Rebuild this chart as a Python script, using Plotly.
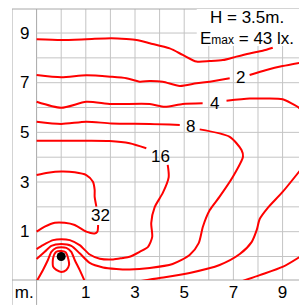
import plotly.graph_objects as go

# ---- data (metres) ----
# isolux curves; None marks a gap where a label sits
c1_x = [-1.0, 0.0, 1.02, 2.04, 2.65, 3.06, 3.6, 4.41, 4.94, 5.5, 6.04, 6.57, 7.12, 7.66, 8.19, 8.6]
c1_y = [8.75, 8.72, 8.75, 8.79, 8.76, 8.72, 8.59, 8.38, 8.12, 7.85, 7.87, 7.91, 8.05, 8.18, 8.29, 8.41]

c2a_x = [-1.0, 0.0, 1.02, 2.04, 2.65, 3.19, 3.6, 4.13, 4.82, 5.5, 6.04, 6.85, None, 7.66, 8.34, 9.0, 9.8]
c2a_y = [7.31, 7.22, 7.30, 7.24, 7.18, 7.04, 7.07, 7.04, 6.87, 6.98, 7.04, 7.18, None, 7.31, 7.51, 7.67, 7.82]
c2b_x = [7.33, 8.07, 9.02, 9.8]
c2b_y = [-1.0, -0.75, -0.41, 0.05]

c4a_x = [-1.0, 0.0, 1.02, 2.04, 3.6, 4.21, 4.94, 5.75, None, 6.72, 7.66, 8.34, 9.0, 9.61, 9.8]
c4a_y = [6.23, 5.99, 6.23, 6.14, 6.14, 6.03, 6.14, 6.17, None, 6.27, 6.36, 6.36, 6.33, 6.03, 5.85]
c4b_x = [9.8, 9.0, 8.39, 8.07, 7.95, 7.74, 7.26, 6.44, 5.22, 4.0, 3.15]
c4b_y = [3.58, 2.6, 1.95, 1.51, 1.07, 0.58, 0.10, -0.34, -0.66, -0.87, -1.0]

c8_x = [-1.0, 0.0, 1.02, 2.04, 3.6, 4.82, None, 5.63, 6.85, 7.33, 7.39, 6.98, 6.44, 6.04, 5.76,
        5.59, 5.22, 4.53, 3.6, 2.78, 2.24, 1.70, 1.16, 0.75, 0.41, 0.0, -0.40, -0.67, -1.0]
c8_y = [5.43, 5.34, 5.43, 5.36, 5.34, 5.30, None, 5.12, 4.82, 4.29, 4.02, 3.21, 2.41, 1.87, 1.20,
        0.54, 0.06, -0.30, -0.46, -0.52, -0.50, -0.44, -0.26, 0.13, 0.43, 0.50, 0.43, 0.19, -0.10]

c16_x = [-1.0, 0.0, 1.02, 1.97, 2.78, 3.46, None, 4.33, 4.37, 4.13, 3.80, 3.66, 3.70, 3.53, 3.19,
         2.78, 2.5, 2.11, 1.57, 1.16, 0.75, 0.35, 0.0, -0.33, -0.74, -1.0]
c16_y = [4.66, 4.66, 4.66, 4.65, 4.56, 4.36, None, 3.69, 3.20, 2.56, 1.99, 1.35, 0.79, 0.39, 0.19,
         -0.01, -0.06, -0.12, -0.09, 0.08, 0.46, 0.66, 0.70, 0.66, 0.46, 0.30]

c32_x = [-1.0, -0.54, 0.0, 0.55, 1.02, 1.29, 1.36, 1.36, 1.43, None, 1.50, 1.47, 1.36, 1.02, 0.55,
         0.14, -0.26, -0.67, -1.0]
c32_y = [3.28, 3.37, 3.42, 3.39, 3.28, 3.01, 2.68, 2.41, 2.01, None, 1.27, 1.00, 0.93, 1.00, 1.27,
         1.36, 1.36, 1.20, 1.00]

arch_x = [-1.0, -0.74, -0.54, -0.40, -0.20, 0.0, 0.21, 0.41, 0.55, 0.75, 0.96]
arch_y = [-1.0, -0.54, -0.14, 0.19, 0.35, 0.37, 0.35, 0.19, -0.14, -0.54, -1.0]

inner_x = [0.0, 0.18, 0.28, 0.32, 0.21, 0.0, -0.20, -0.33, -0.33, -0.20, 0.0]
inner_y = [0.22, 0.17, -0.07, -0.34, -0.54, -0.62, -0.54, -0.41, -0.07, 0.19, 0.22]

lamp_x = [0.0]
lamp_y = [0.0]

label_text = ["2", "4", "8", "16", "32"]
label_x = [7.29, 6.25, 5.26, 4.04, 1.61]
label_y = [7.19, 6.15, 5.22, 4.01, 1.65]

x_tick_vals = [-1.5, 1, 3, 5, 7, 9]
x_tick_text = ["m.", "1", "3", "5", "7", "9"]
y_tick_vals = [1, 3, 5, 7, 9]
y_tick_text = ["1", "3", "5", "7", "9"]

grid_x = list(range(-1, 10))
grid_y = list(range(0, 10))

header_line1 = "H = 3.5m."
header_line2 = "E<span style='font-size:12px'>max</span> = 43 lx."

# ---- figure ----
RED = "#ff0000"
FONT = "Arial, Liberation Sans, sans-serif"
X_RANGE = [-2.0, 9.667]
Y_RANGE = [-0.946, 9.968]

fig = go.Figure()

curves = [(c1_x, c1_y), (c2a_x, c2a_y), (c2b_x, c2b_y), (c4a_x, c4a_y), (c4b_x, c4b_y),
          (c8_x, c8_y), (c16_x, c16_y), (c32_x, c32_y), (arch_x, arch_y), (inner_x, inner_y)]
for cx, cy in curves:
    fig.add_trace(go.Scatter(x=cx, y=cy, mode="lines", connectgaps=False,
                             line=dict(color=RED, width=2, shape="spline", smoothing=0.7),
                             hoverinfo="skip", showlegend=False))

fig.add_trace(go.Scatter(x=lamp_x, y=lamp_y, mode="markers",
                         marker=dict(color="black", size=9), hoverinfo="skip", showlegend=False))

shapes = []
GRID = "#c4c4c4"
FRAME = "#a8a8a8"
for gx in grid_x:
    shapes.append(dict(type="line", xref="x", yref="paper", x0=gx, x1=gx,
                       y0=(-0.092 if gx == -1 else 0), y1=1,
                       line=dict(color=FRAME if gx == -1 else GRID, width=1), layer="below"))
for gy in grid_y:
    shapes.append(dict(type="line", xref="x", yref="y", x0=-1, x1=X_RANGE[1] + 0.1, y0=gy, y1=gy,
                       line=dict(color=GRID, width=1), layer="below"))
# white panel behind the header text
shapes.append(dict(type="rect", xref="x", yref="y", x0=5.51, x1=X_RANGE[1] + 0.2, y0=8.48, y1=Y_RANGE[1] + 0.2,
                   fillcolor="white", line=dict(width=0), layer="below"))
# frame
shapes.append(dict(type="line", xref="x", yref="paper", x0=-2, x1=-2, y0=-0.092, y1=1,
                   line=dict(color=FRAME, width=1), layer="below"))
shapes.append(dict(type="line", xref="paper", yref="paper", x0=0, x1=1, y0=0, y1=0,
                   line=dict(color=FRAME, width=1), layer="below"))
shapes.append(dict(type="line", xref="paper", yref="paper", x0=0, x1=1, y0=1, y1=1,
                   line=dict(color=FRAME, width=1), layer="below"))

annotations = []
for t, lx, ly in zip(label_text, label_x, label_y):
    annotations.append(dict(x=lx, y=ly, xref="x", yref="y", text=t, showarrow=False,
                            font=dict(size=17, color="black", family=FONT)))
for v, t in zip(y_tick_vals, y_tick_text):
    annotations.append(dict(x=-1.5, y=v, xref="x", yref="y", text=t, showarrow=False,
                            font=dict(size=17, color="black", family=FONT)))
annotations.append(dict(x=7.54, y=9.62, xref="x", yref="y", text=header_line1, showarrow=False,
                        font=dict(size=17, color="black", family=FONT)))
annotations.append(dict(x=7.56, y=8.79, xref="x", yref="y", text=header_line2, showarrow=False,
                        font=dict(size=17, color="black", family=FONT)))

fig.update_layout(
    width=299, height=305,
    margin=dict(l=12, r=0, t=9, b=25),
    paper_bgcolor="white", plot_bgcolor="white",
    shapes=shapes, annotations=annotations,
    xaxis=dict(range=X_RANGE, showgrid=False, zeroline=False, showline=False,
               tickvals=x_tick_vals, ticktext=x_tick_text, ticks="",
               tickfont=dict(size=17, color="black", family=FONT), fixedrange=True),
    yaxis=dict(range=Y_RANGE, showgrid=False, zeroline=False, showline=False,
               showticklabels=False, ticks="", fixedrange=True),
    showlegend=False,
    hovermode=False,
)

fig.write_html("out.html", config={"displayModeBar": False, "staticPlot": True},
               post_script="document.body.style.margin='0';document.body.style.overflow='hidden';")
